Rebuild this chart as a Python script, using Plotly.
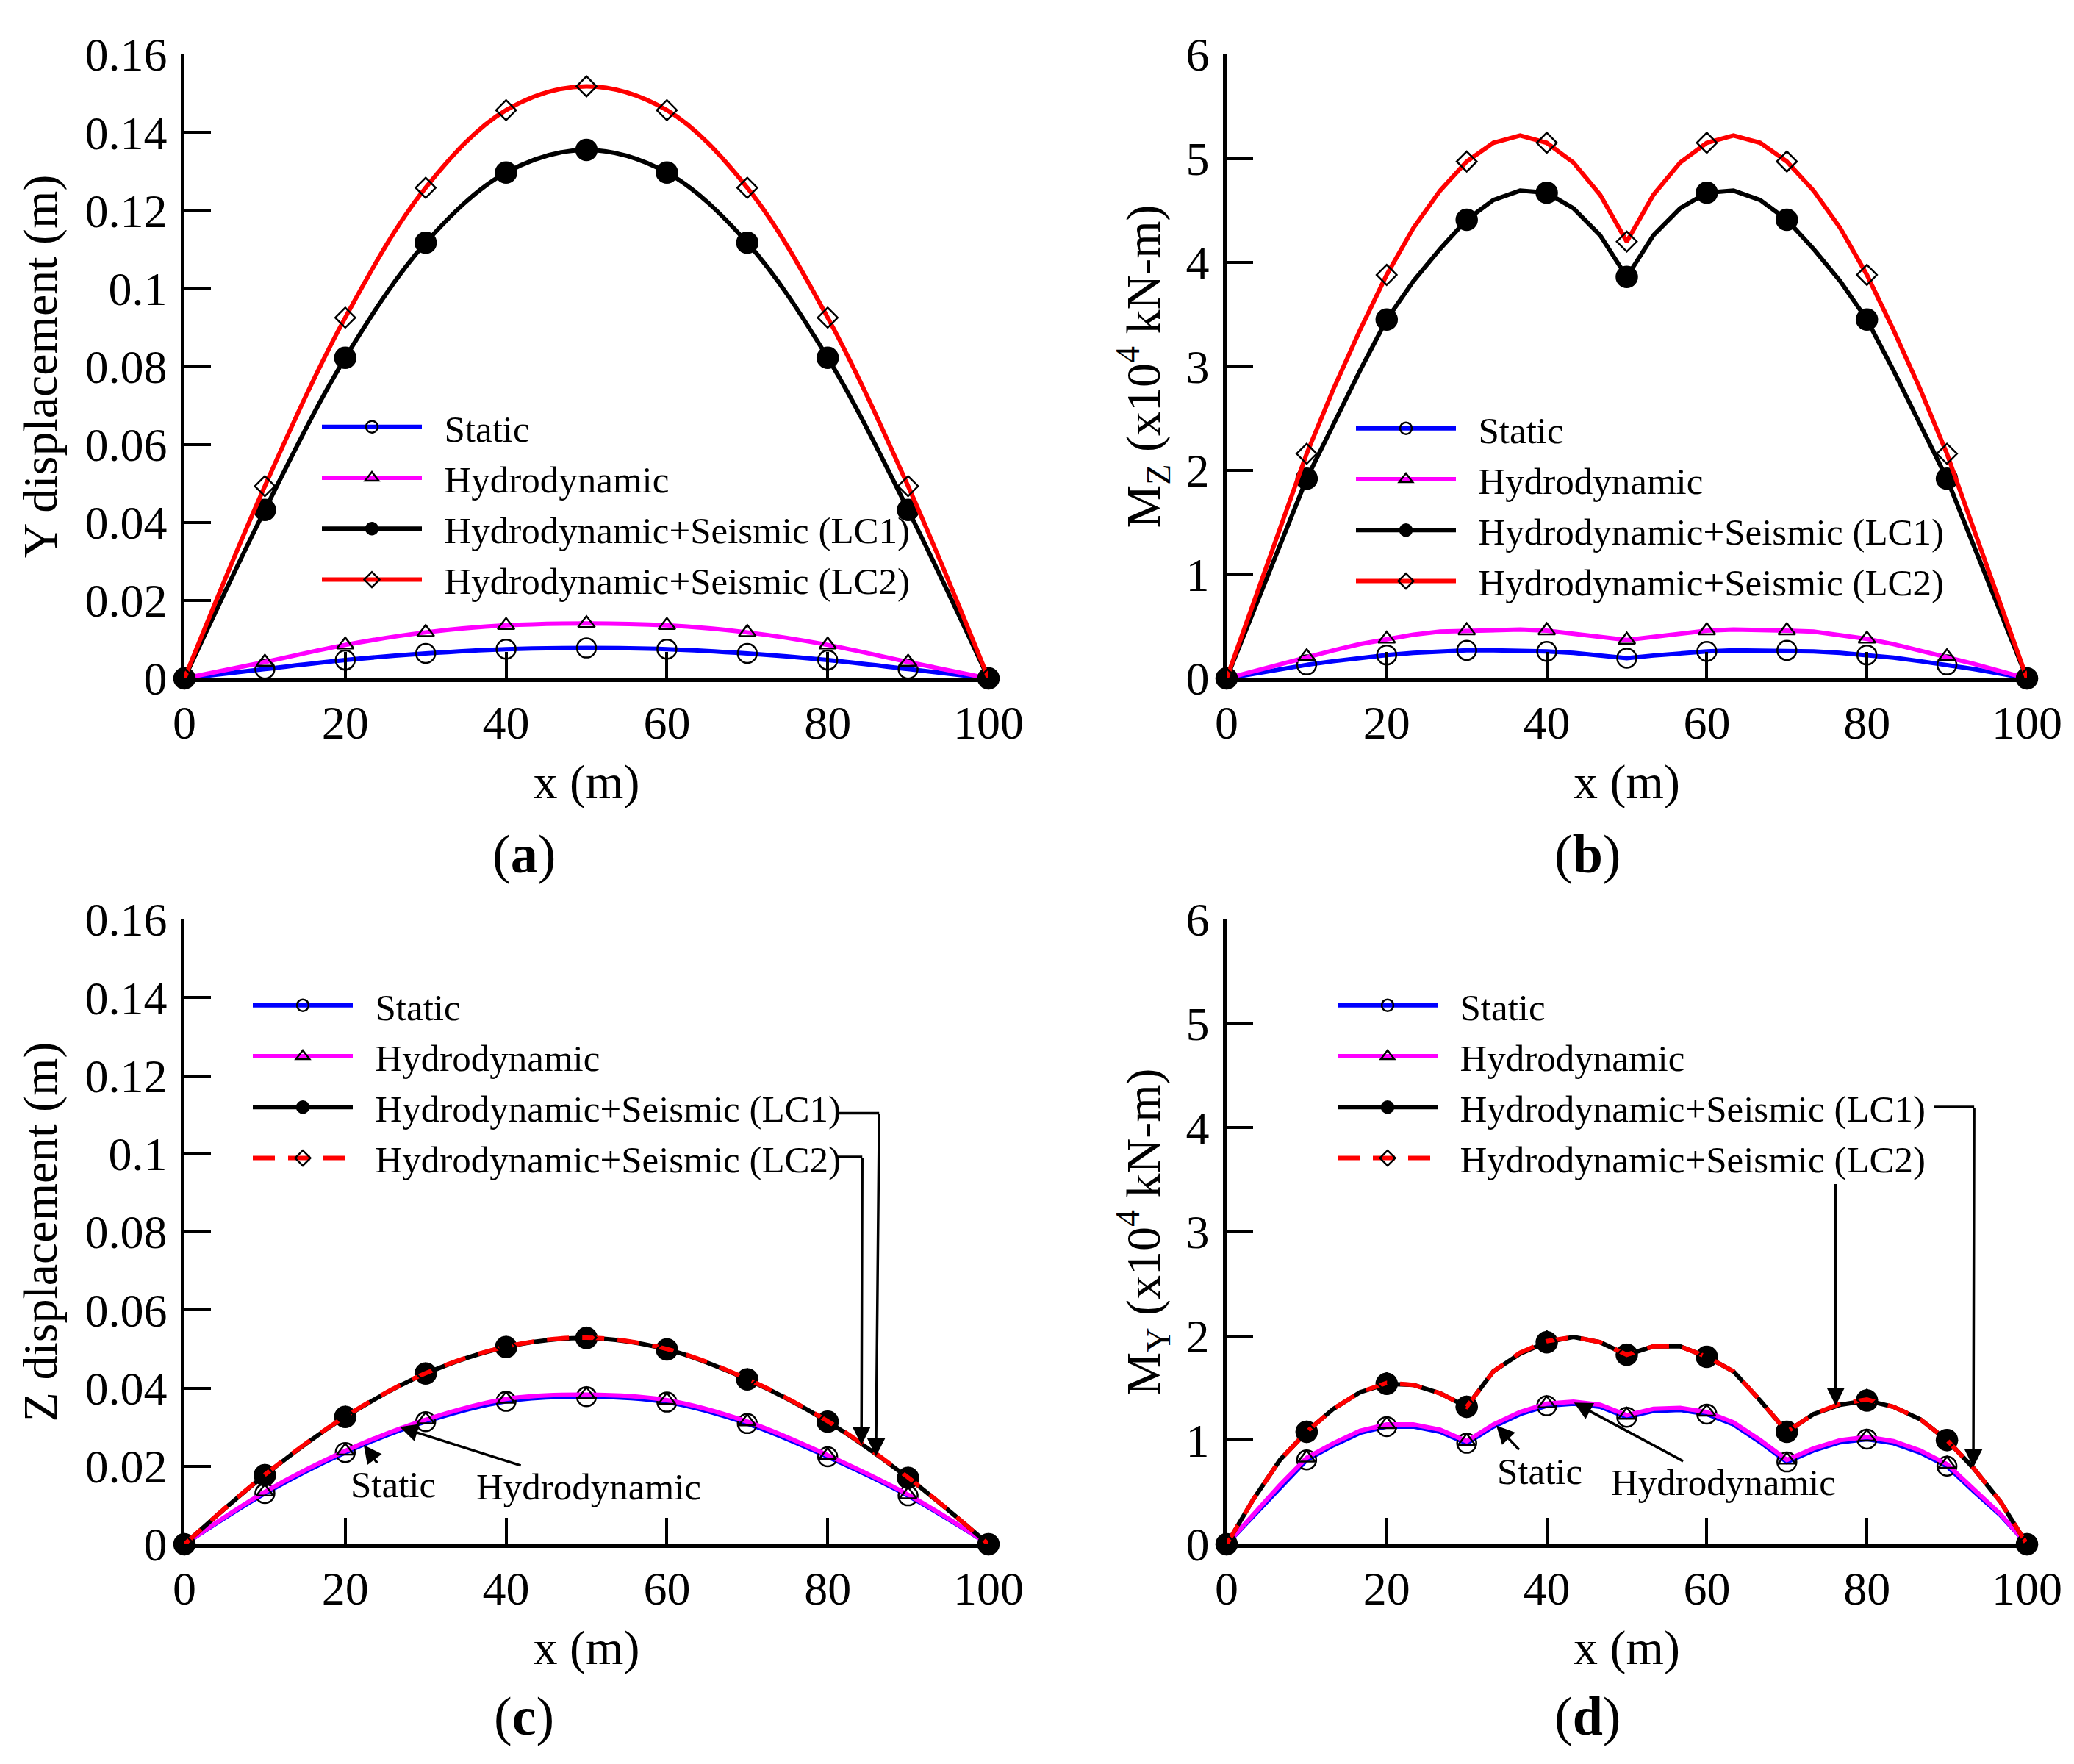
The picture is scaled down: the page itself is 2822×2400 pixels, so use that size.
import plotly.graph_objects as go
from plotly.subplots import make_subplots

FONT = "Liberation Serif"

# x positions along the span (m)
x_mark = [0, 10, 20, 30, 40, 50, 60, 70, 80, 90, 100]
x_node = [0, 3.33, 6.67, 10, 13.33, 16.67, 20, 23.33, 26.67, 30, 33.33, 36.67, 40, 43.33, 46.67, 50,
          53.33, 56.67, 60, 63.33, 66.67, 70, 73.33, 76.67, 80, 83.33, 86.67, 90, 93.33, 96.67, 100]

names = ["Static", "Hydrodynamic", "Hydrodynamic+Seismic (LC1)", "Hydrodynamic+Seismic (LC2)"]

# (a) Y displacement (m), values at x_mark
ya_static = [0, 0.0024, 0.0047, 0.0064, 0.0075, 0.0078, 0.0075, 0.0064, 0.0047, 0.0024, 0]
ya_hydro = [0, 0.0042, 0.0086, 0.0118, 0.0136, 0.0141, 0.0136, 0.0118, 0.0086, 0.0042, 0]
ya_lc1 = [0, 0.0432, 0.0822, 0.1117, 0.1297, 0.1355, 0.1297, 0.1117, 0.0822, 0.0432, 0]
ya_lc2 = [0, 0.0493, 0.0925, 0.1258, 0.1457, 0.1518, 0.1457, 0.1258, 0.0925, 0.0493, 0]

# (b) Mz (x10^4 kN-m), values at x_node
mz_static = [0, 0.045, 0.09, 0.13, 0.165, 0.20, 0.225, 0.245, 0.26, 0.27, 0.27, 0.27, 0.26, 0.245, 0.22, 0.195,
             0.22, 0.245, 0.26, 0.27, 0.27, 0.27, 0.26, 0.245, 0.225, 0.20, 0.165, 0.13, 0.09, 0.045, 0]
mz_hydro = [0, 0.07, 0.14, 0.21, 0.27, 0.33, 0.38, 0.42, 0.45, 0.46, 0.47, 0.47, 0.46, 0.43, 0.40, 0.37,
            0.40, 0.43, 0.46, 0.47, 0.47, 0.46, 0.45, 0.42, 0.38, 0.33, 0.27, 0.21, 0.14, 0.07, 0]
mz_lc1 = [0, 0.64, 1.28, 1.92, 2.44, 2.96, 3.45, 3.82, 4.13, 4.41, 4.60, 4.69, 4.67, 4.52, 4.26, 3.86,
          4.26, 4.52, 4.67, 4.69, 4.60, 4.41, 4.13, 3.82, 3.45, 2.96, 2.44, 1.92, 1.28, 0.64, 0]
mz_lc2 = [0, 0.72, 1.44, 2.16, 2.78, 3.35, 3.88, 4.33, 4.69, 4.97, 5.15, 5.22, 5.15, 4.96, 4.65, 4.20,
          4.65, 4.96, 5.15, 5.22, 5.15, 4.97, 4.69, 4.33, 3.88, 3.35, 2.78, 2.16, 1.44, 0.72, 0]

# (c) Z displacement (m), values at x_mark
zc_static = [0, 0.0130, 0.0235, 0.0314, 0.0366, 0.0378, 0.0364, 0.0309, 0.0224, 0.0124, 0]
zc_hydro = [0, 0.0134, 0.0239, 0.0319, 0.0372, 0.0383, 0.0369, 0.0314, 0.0228, 0.0127, 0]
zc_lc1 = [0, 0.0177, 0.0326, 0.0437, 0.0505, 0.0528, 0.0499, 0.0422, 0.0314, 0.0170, 0]
zc_lc2 = [0, 0.0178, 0.0327, 0.0438, 0.0506, 0.0529, 0.0500, 0.0423, 0.0315, 0.0171, 0]

# (d) My (x10^4 kN-m), values at x_node
my_static = [0, 0.27, 0.55, 0.81, 0.95, 1.07, 1.13, 1.13, 1.08, 0.97, 1.13, 1.25, 1.33, 1.35, 1.32, 1.22,
             1.28, 1.29, 1.25, 1.15, 0.98, 0.79, 0.90, 0.98, 1.01, 0.97, 0.88, 0.75, 0.51, 0.28, 0]
my_hydro = [0, 0.28, 0.57, 0.83, 0.97, 1.09, 1.15, 1.15, 1.10, 0.99, 1.15, 1.27, 1.35, 1.37, 1.34, 1.24,
            1.30, 1.31, 1.27, 1.17, 1.00, 0.81, 0.92, 1.00, 1.03, 0.99, 0.90, 0.77, 0.53, 0.29, 0]
my_lc1 = [0, 0.43, 0.81, 1.08, 1.30, 1.46, 1.54, 1.53, 1.45, 1.32, 1.66, 1.83, 1.94, 1.99, 1.94, 1.82,
          1.90, 1.90, 1.80, 1.66, 1.38, 1.08, 1.25, 1.34, 1.38, 1.32, 1.20, 1.00, 0.73, 0.41, 0]
my_lc2 = [0, 0.43, 0.81, 1.08, 1.30, 1.46, 1.55, 1.53, 1.45, 1.32, 1.66, 1.84, 1.95, 1.99, 1.94, 1.82,
          1.90, 1.90, 1.80, 1.66, 1.38, 1.08, 1.25, 1.35, 1.39, 1.32, 1.20, 1.00, 0.73, 0.41, 0]

xtick_vals = [0, 20, 40, 60, 80, 100]
disp_ticks = [0, 0.02, 0.04, 0.06, 0.08, 0.1, 0.12, 0.14, 0.16]
disp_labels = ["0", "0.02", "0.04", "0.06", "0.08", "0.1", "0.12", "0.14", "0.16"]
mom_ticks = [0, 1, 2, 3, 4, 5, 6]

# line colour, marker symbol, marker size
styles = [
    dict(color="#0000ff", symbol="circle-open", size=26),
    dict(color="#ff00ff", symbol="triangle-up-open", size=20),
    dict(color="#000000", symbol="circle", size=28),
    dict(color="#ff0000", symbol="diamond-open", size=21),
]

fig = make_subplots(rows=2, cols=2)


def add_series(row, col, k, xl, yl, xm, ym, leg, shape="linear", dash="solid"):
    st = styles[k]
    line = dict(color=st["color"], width=6, shape=shape, dash=dash)
    marker = dict(symbol=st["symbol"], size=st["size"], color="black",
                  line=dict(color="black", width=2.5))
    fig.add_trace(go.Scatter(x=xl, y=yl, mode="lines", line=line, showlegend=False,
                             cliponaxis=False, hoverinfo="skip"), row=row, col=col)
    fig.add_trace(go.Scatter(x=xm, y=ym, mode="markers", marker=marker, showlegend=False,
                             cliponaxis=False), row=row, col=col)
    # legend entry (line + marker)
    fig.add_trace(go.Scatter(x=[None], y=[None], mode="lines+markers", line=line, marker=marker,
                             name="\u00a0\u00a0" + names[k], legend=leg), row=row, col=col)


for k, y in enumerate([ya_static, ya_hydro, ya_lc1, ya_lc2]):
    add_series(1, 1, k, x_mark, y, x_mark, y, "legend", shape="spline")
for k, y in enumerate([mz_static, mz_hydro, mz_lc1, mz_lc2]):
    add_series(1, 2, k, x_node, y, x_node[::3], y[::3], "legend2")
for k, y in enumerate([zc_static, zc_hydro, zc_lc1, zc_lc2]):
    add_series(2, 1, k, x_mark, y, x_mark, y, "legend3", shape="spline",
               dash="30px,18px" if k == 3 else "solid")
for k, y in enumerate([my_static, my_hydro, my_lc1, my_lc2]):
    add_series(2, 2, k, x_node, y, x_node[::3], y[::3], "legend4",
               dash="30px,18px" if k == 3 else "solid")

W, H = 2822, 2400
OFF = 9  # page margin around the figure


def px(v):
    return (v - OFF) / W


def py(v):
    return 1 - (v - OFF) / H


col_dom = [[px(252), px(1346)], [px(1670), px(2759)]]
row_dom = [[py(924), py(75)], [py(2102), py(1252)]]

axis_common = dict(showline=True, linecolor="black", linewidth=4.5, ticks="inside", ticklen=36,
                   tickwidth=4, tickcolor="black", showgrid=False, zeroline=False, automargin=False,
                   tickfont=dict(family=FONT, size=64, color="black"))
title_font = dict(family=FONT, size=66, color="black")

for r in (1, 2):
    for c in (1, 2):
        fig.update_xaxes(axis_common, domain=col_dom[c - 1], range=[0, 100], tickvals=xtick_vals,
                         ticklabelstandoff=0,
                         title=dict(text="x (m)", font=title_font, standoff=24),
                         row=r, col=c)
        if c == 1:
            ytitle = "Y displacement (m)" if r == 1 else "Z displacement (m)"
            fig.update_yaxes(axis_common, domain=row_dom[r - 1], range=[0, 0.16], tickvals=disp_ticks,
                             ticktext=disp_labels, ticklabelstandoff=6,
                             title=dict(text=ytitle, font=title_font, standoff=18),
                             row=r, col=c)
        else:
            sub = "Z" if r == 1 else "Y"
            ytitle = "M<sub>%s</sub> (x10<sup>4</sup> kN-m)" % sub
            fig.update_yaxes(axis_common, domain=row_dom[r - 1], range=[0, 6], tickvals=mom_ticks,
                             ticklabelstandoff=6,
                             title=dict(text=ytitle, font=title_font, standoff=15),
                             row=r, col=c)

leg_common = dict(font=dict(family=FONT, size=51, color="black"), bgcolor="rgba(0,0,0,0)",
                  xanchor="left", yanchor="top", itemwidth=136, tracegroupgap=0, borderwidth=0)
fig.update_layout(
    legend=dict(leg_common, x=px(434), y=py(542)),
    legend2=dict(leg_common, x=px(1841), y=py(544)),
    legend3=dict(leg_common, x=px(340), y=py(1329)),
    legend4=dict(leg_common, x=px(1816), y=py(1329)),
)

# panel letters
for txt, cx, cy in [("a", 714, 1163), ("b", 2161, 1163), ("c", 714, 2336), ("d", 2161, 2336)]:
    fig.add_annotation(text="(<b>%s</b>)" % txt, x=px(cx), y=py(cy), xref="paper", yref="paper",
                       xanchor="center", yanchor="middle", showarrow=False,
                       font=dict(family=FONT, size=74, color="black"))

ann_font = dict(family=FONT, size=51, color="black")
arrow = dict(showarrow=True, arrowhead=2, arrowsize=1.4, arrowwidth=3.5, arrowcolor="black", standoff=0)

# (c) labels with arrows to the curves
fig.add_annotation(text="Static", x=22.3, y=0.0254, ax=26.0, ay=0.0153, xref="x3", yref="y3",
                   axref="x3", ayref="y3", font=ann_font, **arrow)
fig.add_annotation(text="Hydrodynamic", x=26.8, y=0.030, ax=50.3, ay=0.0146, xref="x3", yref="y3",
                   axref="x3", ayref="y3", font=ann_font, **arrow)
# (c) arrows from the seismic legend entries
fig.add_annotation(text="", x=86.0, y=0.0225, ax=86.4, ay=0.1104, xref="x3", yref="y3",
                   axref="x3", ayref="y3", **arrow)
fig.add_annotation(text="", x=84.2, y=0.0254, ax=84.3, ay=0.0992, xref="x3", yref="y3",
                   axref="x3", ayref="y3", **arrow)
fig.add_shape(type="line", x0=81.0, x1=86.4, y0=0.1104, y1=0.1104, xref="x3", yref="y3",
              line=dict(color="black", width=3.5))
fig.add_shape(type="line", x0=81.0, x1=84.3, y0=0.0992, y1=0.0992, xref="x3", yref="y3",
              line=dict(color="black", width=3.5))

# (d) labels with arrows to the curves
fig.add_annotation(text="Static", x=33.7, y=1.14, ax=39.1, ay=0.70, xref="x4", yref="y4",
                   axref="x4", ayref="y4", font=ann_font, **arrow)
fig.add_annotation(text="Hydrodynamic", x=43.4, y=1.36, ax=62.1, ay=0.59, xref="x4", yref="y4",
                   axref="x4", ayref="y4", font=ann_font, **arrow)
# (d) arrows from the seismic legend entries
fig.add_annotation(text="", x=93.3, y=0.74, ax=93.4, ay=4.2, xref="x4", yref="y4",
                   axref="x4", ayref="y4", **arrow)
fig.add_annotation(text="", x=76.1, y=1.33, ax=76.1, ay=3.47, xref="x4", yref="y4",
                   axref="x4", ayref="y4", **arrow)
fig.add_shape(type="line", x0=88.4, x1=93.4, y0=4.2, y1=4.2, xref="x4", yref="y4",
              line=dict(color="black", width=3.5))

fig.update_layout(width=W, height=H, margin=dict(l=0, r=0, t=0, b=0),
                  paper_bgcolor="white", plot_bgcolor="white",
                  font=dict(family=FONT, color="black"))

fig.write_html("out.html")
